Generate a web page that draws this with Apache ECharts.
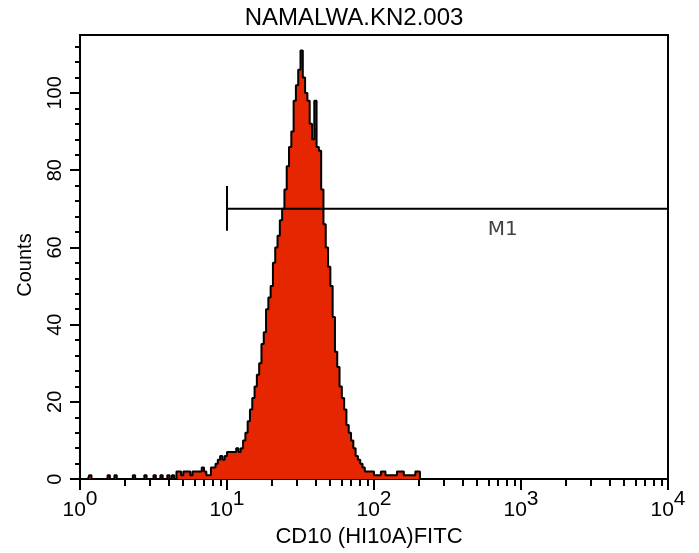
<!DOCTYPE html>
<html>
<head>
<meta charset="utf-8">
<script src="https://cdn.jsdelivr.net/npm/echarts@6/dist/echarts.min.js"></script>
<style>
  html, body { margin: 0; padding: 0; background: #fff; }
  #chart { width: 699px; height: 553px; }
</style>
</head>
<body>
<div id="chart"></div>
<script>
// histogram counts, one per channel (256 channels, 64 per decade)
var counts = [
  0,0,0,0,1,0,0,0,0,0,0,0,1,0,0,1,
  0,0,0,0,0,0,0,1,0,0,0,0,1,0,0,0,
  1,0,0,1,0,0,1,0,1,0,2,2,1,2,2,2,
  1,2,2,2,2,3,2,1,1,3,3,4,5,6,5,6,
  7,7,7,7,8,7,8,10,12,15,18,21,24,27,30,35,
  38,44,47,50,56,60,63,67,70,75,81,86,90,98,102,106,
  111,104,100,98,92,88,98,86,85,75,66,60,55,50,42,33,
  29,24,21,18,14,12,10,8,6,5,4,3,2,2,2,2,
  1,1,1,2,2,1,1,1,1,1,2,2,2,1,1,1,
  1,1,2,2,0,0,0,0,0,0,0,0,0,0,0,0,
  0,0,0,0,0,0,0,0,0,0,0,0,0,0,0,0,
  0,0,0,0,0,0,0,0,0,0,0,0,0,0,0,0,
  0,0,0,0,0,0,0,0,0,0,0,0,0,0,0,0,
  0,0,0,0,0,0,0,0,0,0,0,0,0,0,0,0,
  0,0,0,0,0,0,0,0,0,0,0,0,0,0,0,0,
  0,0,0,0,0,0,0,0,0,0,0,0,0,0,0,0
];

var channelsPerDecade = 64;
var decadeTicks = [0, 64, 128, 192, 256];
var decadeExponents = ['0', '1', '2', '3', '4'];
var minorMultipliers = [2, 3, 4, 5, 6, 7, 8, 9];
var countTicks = [0, 20, 40, 60, 80, 100];
var countMinorTicks = [4, 8, 12, 16, 24, 28, 32, 36, 44, 48, 52, 56, 64, 68, 72, 76, 84, 88, 92, 96, 104, 108, 112];
var countMax = 115;

// marker M1
var gateRange = [64, 256];
var gateLevel = 70;
var gateBar = [64.3, 75.9];
var gateName = 'M1';
var gateLabelAt = [184, 64.5];

var FONT = '"Liberation Sans", Arial, Helvetica, sans-serif';

var minorChannels = [];
for (var d = 0; d < decadeTicks.length - 1; d++) {
  minorMultipliers.forEach(function (k) {
    minorChannels.push(decadeTicks[d] + channelsPerDecade * Math.log10(k));
  });
}

var histData = counts.map(function (v, i) { return [i + 0.5, v]; });

var chart = echarts.init(document.getElementById('chart'));

var option = {
  animation: false,
  backgroundColor: '#fff',
  graphic: [{
    type: 'text',
    x: 354,
    y: 18,
    style: {
      text: 'NAMALWA.KN2.003',
      textAlign: 'center',
      textVerticalAlign: 'middle',
      fill: '#000',
      font: '24px ' + FONT
    }
  }],
  grid: {
    left: 80,
    right: 31,
    top: 35,
    bottom: 73,
    show: true,
    borderColor: '#000',
    borderWidth: 2,
    backgroundColor: 'transparent'
  },
  xAxis: [{
    type: 'value',
    min: 0,
    max: 256,
    position: 'bottom',
    name: 'CD10 (HI10A)FITC',
    nameLocation: 'middle',
    nameGap: 44,
    nameTextStyle: { fontSize: 22, color: '#000', fontFamily: FONT, padding: [0, 10, 0, 0] },
    axisLine: { show: true, lineStyle: { color: '#000', width: 2 } },
    axisTick: { show: true, length: 11, lineStyle: { color: '#000', width: 2 }, customValues: decadeTicks },
    axisLabel: {
      customValues: decadeTicks,
      margin: 10,
      formatter: function (v) {
        var i = decadeTicks.indexOf(v);
        return '{b|10}{e|' + decadeExponents[i] + '}';
      },
      rich: {
        b: { fontSize: 21, color: '#000', fontFamily: FONT, verticalAlign: 'bottom' },
        e: { fontSize: 21, color: '#000', fontFamily: FONT, verticalAlign: 'bottom', padding: [0, 0, 11, 0] }
      }
    },
    splitLine: { show: false }
  }, {
    type: 'value',
    min: 0,
    max: 256,
    position: 'bottom',
    axisLine: { show: false },
    axisTick: { show: true, length: 7, lineStyle: { color: '#000', width: 2 }, customValues: minorChannels },
    axisLabel: { show: false },
    splitLine: { show: false }
  }],
  yAxis: [{
    type: 'value',
    min: 0,
    max: countMax,
    position: 'left',
    name: 'Counts',
    nameLocation: 'middle',
    nameGap: 45,
    nameTextStyle: { fontSize: 20, color: '#000', fontFamily: FONT, padding: [0, 16, 0, 0] },
    axisLine: { show: true, lineStyle: { color: '#000', width: 2 } },
    axisTick: { show: true, length: 10, lineStyle: { color: '#000', width: 2 }, customValues: countTicks },
    axisLabel: { customValues: countTicks, rotate: 90, margin: 15, fontSize: 20, color: '#000', fontFamily: FONT },
    splitLine: { show: false }
  }, {
    type: 'value',
    min: 0,
    max: countMax,
    position: 'left',
    axisLine: { show: false },
    axisTick: { show: true, length: 5, lineStyle: { color: '#000', width: 2 }, customValues: countMinorTicks },
    axisLabel: { show: false },
    splitLine: { show: false }
  }],
  series: [{
    name: 'Counts',
    type: 'line',
    step: 'middle',
    data: histData,
    symbol: 'none',
    lineStyle: { color: '#000', width: 2 },
    areaStyle: { color: '#e52600', opacity: 1 },
    z: 2
  }, {
    name: 'M1',
    type: 'line',
    data: [[gateRange[0], gateLevel], [gateRange[1], gateLevel]],
    symbol: 'none',
    lineStyle: { color: '#000', width: 2 },
    z: 3
  }, {
    name: 'M1 bar',
    type: 'line',
    data: [[gateRange[0], gateBar[0]], [gateRange[0], gateBar[1]]],
    symbol: 'none',
    lineStyle: { color: '#000', width: 2 },
    z: 3
  }, {
    name: 'M1 label',
    type: 'scatter',
    data: [gateLabelAt],
    symbolSize: 0,
    label: {
      show: true,
      position: 'inside',
      formatter: gateName,
      fontSize: 20,
      color: '#111',
      fontFamily: '"DejaVu Sans", sans-serif'
    },
    z: 3
  }]
};

chart.setOption(option);
</script>
</body>
</html>
